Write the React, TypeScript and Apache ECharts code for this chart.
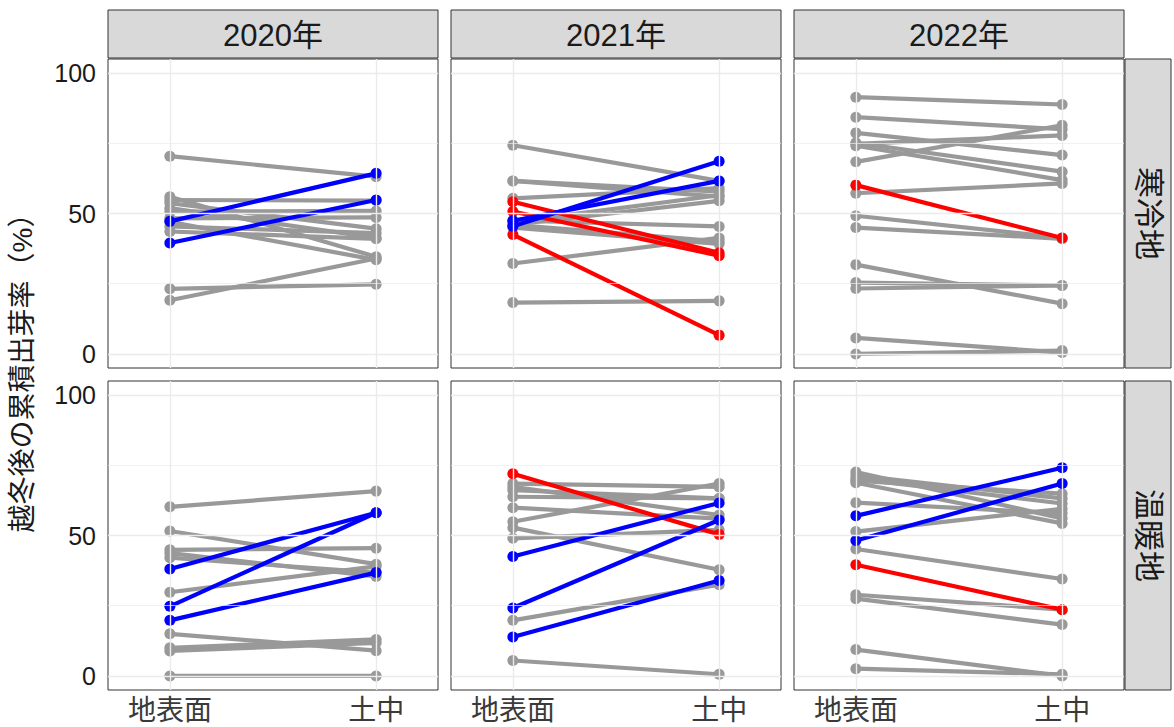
import React, { useEffect, useRef } from 'react';
import * as echarts from 'echarts';

const years = ['2020年', '2021年', '2022年'];
const regions = ['寒冷地', '温暖地'];
const positions = ['地表面', '土中'];
const yTicks = [0, 50, 100];
const yMinor = [25, 75];
const yTitle = '越冬後の累積出芽率（%）';

// g = gray, b = blue, r = red
const cold2020Surface = [70.4, 56.0, 54.8, 53.7, 51.9, 50.7, 48.3, 45.4, 43.6, 47.0, 23.2, 19.1, 47.2, 39.5];
const cold2020Soil = [63.1, 34.6, 54.6, 44.6, 41.3, 50.9, 48.6, 43.0, 41.0, 33.5, 24.8, 34.0, 64.3, 54.8];
const cold2020Type = ['g', 'g', 'g', 'g', 'g', 'g', 'g', 'g', 'g', 'g', 'g', 'g', 'b', 'b'];

const cold2021Surface = [74.3, 61.6, 61.6, 55.4, 47.0, 46.0, 47.5, 46.0, 45.0, 32.2, 18.3, 54.2, 50.7, 42.5, 45.5, 47.4];
const cold2021Soil = [61.6, 56.0, 57.8, 59.0, 56.5, 54.5, 45.4, 40.1, 39.2, 41.3, 18.9, 36.0, 35.0, 6.7, 68.6, 61.6];
const cold2021Type = ['g', 'g', 'g', 'g', 'g', 'g', 'g', 'g', 'g', 'g', 'g', 'r', 'r', 'r', 'b', 'b'];

const cold2022Surface = [91.4, 84.3, 78.7, 75.2, 74.1, 74.8, 68.4, 57.2, 49.2, 45.0, 31.8, 25.4, 23.3, 5.7, 0.0, 60.1];
const cold2022Soil = [88.8, 80.0, 70.8, 64.9, 61.9, 77.8, 81.4, 60.7, 41.3, 41.0, 17.9, 24.4, 24.4, 0.5, 1.2, 41.3];
const cold2022Type = ['g', 'g', 'g', 'g', 'g', 'g', 'g', 'g', 'g', 'g', 'g', 'g', 'g', 'g', 'g', 'r'];

const warm2020Surface = [60.2, 51.6, 44.9, 43.7, 42.1, 29.8, 15.0, 10.0, 8.9, 0.0, 38.1, 24.8, 19.8];
const warm2020Soil = [65.8, 39.8, 45.5, 35.4, 36.8, 39.0, 9.0, 13.0, 11.8, 0.0, 58.1, 58.1, 36.8];
const warm2020Type = ['g', 'g', 'g', 'g', 'g', 'g', 'g', 'g', 'g', 'g', 'b', 'b', 'b'];

const warm2021Surface = [68.5, 67.3, 66.1, 63.8, 59.9, 54.9, 52.8, 49.0, 19.8, 5.5, 72.0, 42.5, 24.2, 13.9];
const warm2021Soil = [67.3, 57.3, 63.2, 63.2, 56.0, 68.5, 37.8, 52.0, 32.5, 0.6, 50.4, 61.6, 55.5, 34.0];
const warm2021Type = ['g', 'g', 'g', 'g', 'g', 'g', 'g', 'g', 'g', 'g', 'r', 'b', 'b', 'b'];

const warm2022Surface = [72.6, 71.4, 70.2, 69.5, 68.8, 61.7, 51.4, 45.2, 28.9, 27.5, 9.4, 2.6, 39.6, 57.0, 48.2];
const warm2022Soil = [56.1, 63.2, 61.4, 64.9, 54.3, 57.9, 59.5, 34.5, 23.6, 18.3, 0.0, 0.6, 23.6, 74.1, 68.5];
const warm2022Type = ['g', 'g', 'g', 'g', 'g', 'g', 'g', 'g', 'g', 'g', 'g', 'g', 'r', 'b', 'b'];

const panelSurface = [cold2020Surface, cold2021Surface, cold2022Surface, warm2020Surface, warm2021Surface, warm2022Surface];
const panelSoil = [cold2020Soil, cold2021Soil, cold2022Soil, warm2020Soil, warm2021Soil, warm2022Soil];
const panelType = [cold2020Type, cold2021Type, cold2022Type, warm2020Type, warm2021Type, warm2022Type];

const typeColor: Record<string, string> = { g: '#999999', b: '#0000FF', r: '#FF0000' };

const FONT = '"Liberation Sans", "Noto Sans CJK JP", sans-serif';
const colLeft = [108, 451, 794];
const rowTop = [59, 381];
const PW = 330;
const PH = 309;

export default function App() {
  const ref = useRef<HTMLDivElement>(null);
  useEffect(() => {
    if (!ref.current) return;
    const chart = echarts.init(ref.current, null, { renderer: 'svg' });
    const grids: any[] = [];
    const xAxes: any[] = [];
    const yAxes: any[] = [];
    const series: any[] = [];
    const graphic: any[] = [];

    for (let r = 0; r < 2; r++) {
      for (let c = 0; c < 3; c++) {
        const p = r * 3 + c;
        grids.push({
          left: colLeft[c], top: rowTop[r], width: PW, height: PH,
          show: true, borderColor: '#333333', borderWidth: 1, backgroundColor: '#ffffff',
          containLabel: false,
        });
        xAxes.push({
          type: 'value', gridIndex: p, min: -0.3, max: 1.3,
          axisLine: { show: false },
          splitLine: { show: false },
          axisTick: { show: r === 1, customValues: [0, 1], length: 5, lineStyle: { color: '#333333', width: 1 } },
          axisLabel: {
            show: r === 1, customValues: [0, 1], margin: 6,
            formatter: (v: number) => positions[Math.round(v)] ?? '',
            fontSize: 28, color: '#3a3a3a', fontFamily: FONT,
          },
        });
        yAxes.push({
          type: 'value', gridIndex: p, min: -5, max: 105,
          axisLine: { show: false },
          splitLine: { show: false },
          axisTick: { show: c === 0, customValues: yTicks, length: 5, lineStyle: { color: '#333333', width: 1 } },
          axisLabel: {
            show: c === 0, customValues: yTicks, margin: 12,
            fontSize: 25, color: '#1a1a1a', fontFamily: FONT,
          },
        });
        // grid lines
        series.push({
          type: 'line', xAxisIndex: p, yAxisIndex: p, data: [], z: 1, silent: true,
          markLine: {
            symbol: 'none', silent: true, animation: false,
            label: { show: false },
            data: [
              ...yMinor.map((v) => ({ yAxis: v, lineStyle: { color: '#EBEBEB', width: 0.7, type: 'solid' } })),
              ...yTicks.map((v) => ({ yAxis: v, lineStyle: { color: '#EBEBEB', width: 1.4, type: 'solid' } })),
              ...[0, 1].map((v) => ({ xAxis: v, lineStyle: { color: '#EBEBEB', width: 1.4, type: 'solid' } })),
            ],
          },
        });
        const s = panelSurface[p];
        const t = panelSoil[p];
        const ty = panelType[p];
        const order = ty.map((_, i) => i).sort((a, b) => (ty[a] === 'g' ? 0 : 1) - (ty[b] === 'g' ? 0 : 1));
        order.forEach((i) => {
          const col = typeColor[ty[i]];
          series.push({
            type: 'line', xAxisIndex: p, yAxisIndex: p,
            data: [[0, s[i]], [1, t[i]]],
            symbol: 'circle', symbolSize: 11, showSymbol: true,
            lineStyle: { width: 4.2, color: col },
            itemStyle: { color: col },
            z: ty[i] === 'g' ? 2 : 3, silent: true,
          });
        });
      }
    }

    // top strips
    for (let c = 0; c < 3; c++) {
      graphic.push({
        type: 'rect', shape: { x: colLeft[c], y: 10, width: PW, height: 48 },
        style: { fill: '#D9D9D9', stroke: '#333333', lineWidth: 1 }, z: 10,
      });
      graphic.push({
        type: 'text', x: colLeft[c] + PW / 2, y: 35,
        style: { text: years[c], fontSize: 31, fontFamily: FONT, fill: '#1a1a1a', align: 'center', verticalAlign: 'middle' },
        z: 11,
      });
    }
    // right strips
    for (let r = 0; r < 2; r++) {
      graphic.push({
        type: 'rect', shape: { x: 1125, y: rowTop[r], width: 46, height: PH },
        style: { fill: '#D9D9D9', stroke: '#333333', lineWidth: 1 }, z: 10,
      });
      graphic.push({
        type: 'text', x: 1148, y: rowTop[r] + PH / 2, rotation: -Math.PI / 2,
        style: { text: regions[r], fontSize: 31, fontFamily: FONT, fill: '#1a1a1a', align: 'center', verticalAlign: 'middle' },
        z: 11,
      });
    }
    // y title
    graphic.push({
      type: 'text', x: 22, y: 366, rotation: Math.PI / 2,
      style: { text: yTitle, fontSize: 28, fontFamily: FONT, fill: '#1a1a1a', align: 'center', verticalAlign: 'middle' },
      z: 11,
    });

    chart.setOption({
      animation: false,
      backgroundColor: '#ffffff',
      grid: grids,
      xAxis: xAxes,
      yAxis: yAxes,
      series,
      graphic,
    });
    return () => chart.dispose();
  }, []);
  return <div ref={ref} style={{ position: 'absolute', left: 0, top: 0, width: 1174, height: 727 }} />;
}
